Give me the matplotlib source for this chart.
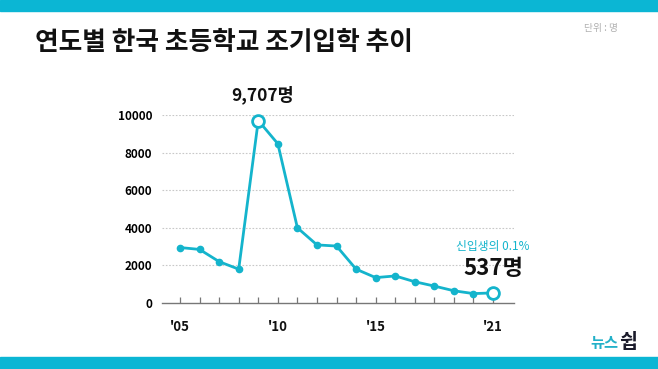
import matplotlib.pyplot as plt
from matplotlib.patches import Rectangle

plt.rcParams['font.family'] = ['Noto Sans CJK KR', 'DejaVu Sans']

years = [2005, 2006, 2007, 2008, 2009, 2010, 2011, 2012, 2013, 2014,
         2015, 2016, 2017, 2018, 2019, 2020, 2021]
early_entry = [2950, 2850, 2200, 1800, 9707, 8470, 4000, 3090, 3030, 1800,
               1350, 1440, 1130, 900, 650, 500, 537]
yticks = [0, 2000, 4000, 6000, 8000, 10000]
xtick_years = [2005, 2010, 2015, 2021]
xtick_labels = ["'05", "'10", "'15", "'21"]

cyan = '#14b4cc'

fig = plt.figure(figsize=(6.58, 3.69), dpi=100)

# top and bottom cyan bands
fig.patches.append(Rectangle((0, 1 - 11 / 369), 1, 11 / 369, transform=fig.transFigure,
                             color='#0bb6d4', zorder=0))
fig.patches.append(Rectangle((0, 0), 1, 12 / 369, transform=fig.transFigure,
                             color='#0bb6d4', zorder=0))

fig.text(35 / 658, 1 - 43 / 369, '연도별 한국 초등학교 조기입학 추이', fontsize=18.5,
         fontweight='heavy', va='center', ha='left', color='#111111')
fig.text(618 / 658, 1 - 28 / 369, '단위 : 명', fontsize=7, color='#b0b0b0',
         ha='right', va='center')

ax = fig.add_axes([162 / 658, 1 - 303 / 369, 352 / 658, 188 / 369])
ax.set_xlim(2004.08, 2022.07)
ax.set_ylim(0, 10000)

ax.plot(years, early_entry, color=cyan, lw=2, marker='o', ms=4.5, zorder=3,
        clip_on=False)
hl = [years.index(2009), years.index(2021)]
ax.plot([years[i] for i in hl], [early_entry[i] for i in hl], 'o', ms=8.5,
        mfc='white', mec=cyan, mew=2, zorder=4, clip_on=False)

for s in ['top', 'right', 'left']:
    ax.spines[s].set_visible(False)
ax.spines['bottom'].set_color('#777777')
ax.spines['bottom'].set_linewidth(1)

ax.set_yticks(yticks)
ax.set_yticklabels([str(v) for v in yticks], fontsize=8.5, fontweight='bold')
ax.tick_params(axis='y', length=0, pad=7)
for y in yticks[1:]:
    ax.axhline(y, color='#c8c8c8', lw=0.8, ls=(0, (1.5, 1.5)), zorder=1)

ax.set_xticks(years)
ax.set_xticklabels(['' for _ in years])
ax.tick_params(axis='x', direction='in', length=4, color='#777777', width=0.9)
for yr, lab in zip(xtick_years, xtick_labels):
    ax.text(yr, -900, lab, ha='center', va='top', fontsize=9.5, fontweight='bold',
            color='#111111')

ax.text(2009.2, 11050, '9,707명', ha='center', va='center', fontsize=12.5,
        fontweight='heavy', color='#111111', clip_on=False)
ax.text(2021.0, 3000, '신입생의 0.1%', ha='center', va='center', fontsize=8.5,
        color=cyan)
ax.text(2021.0, 1850, '537명', ha='center', va='center', fontsize=16,
        fontweight='heavy', color='#111111')

fig.text(618 / 658, 1 - 343 / 369, '뉴스', fontsize=11, fontweight='heavy',
         fontstyle='italic', color='#22b0c8', ha='right', va='center')
fig.text(619 / 658, 1 - 343 / 369, '쉽', fontsize=14, fontweight='heavy',
         color='#1a1a2a', ha='left', va='center')

fig.savefig('out.png', dpi=100, facecolor='white')
